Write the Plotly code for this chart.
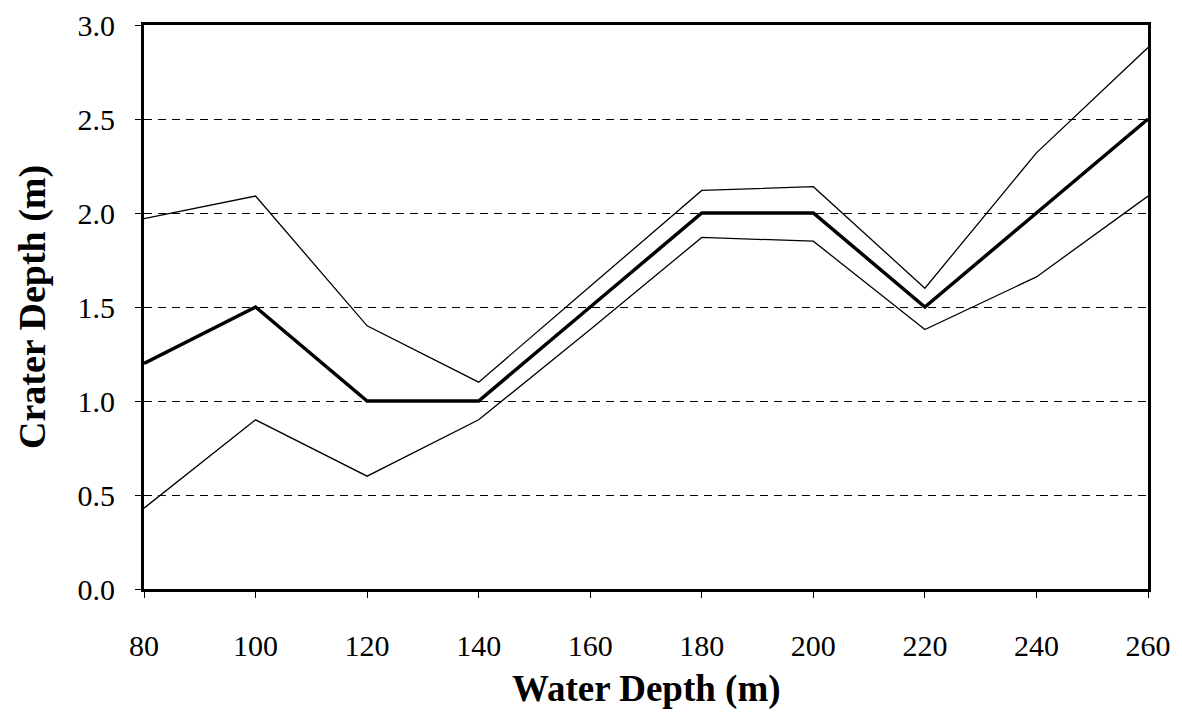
import plotly.graph_objects as go

water_depth = [80, 100, 120, 140, 160, 180, 200, 220, 240, 260]
crater_mean = [1.2, 1.5, 1.0, 1.0, 1.5, 2.0, 2.0, 1.5, 2.0, 2.5]
crater_upper = [1.97, 2.09, 1.40, 1.10, 1.61, 2.12, 2.14, 1.60, 2.32, 2.88]
crater_lower = [0.43, 0.90, 0.60, 0.90, 1.38, 1.87, 1.85, 1.38, 1.66, 2.09]

x_ticks = [80, 100, 120, 140, 160, 180, 200, 220, 240, 260]
y_ticks = [0.0, 0.5, 1.0, 1.5, 2.0, 2.5, 3.0]
y_tick_labels = ["0.0", "0.5", "1.0", "1.5", "2.0", "2.5", "3.0"]
x_title = "Water Depth (m)"
y_title = "Crater Depth (m)"

fig = go.Figure()
fig.add_trace(go.Scatter(x=water_depth, y=crater_upper, mode="lines",
                         line=dict(color="black", width=1.3), showlegend=False))
fig.add_trace(go.Scatter(x=water_depth, y=crater_lower, mode="lines",
                         line=dict(color="black", width=1.3), showlegend=False))
fig.add_trace(go.Scatter(x=water_depth, y=crater_mean, mode="lines",
                         line=dict(color="black", width=3.5), showlegend=False))

font_family = "Liberation Serif, Times New Roman, serif"

fig.update_layout(
    width=1166, height=705,
    margin=dict(l=136, r=26, t=17, b=124, autoexpand=False),
    paper_bgcolor="white", plot_bgcolor="white",
    font=dict(family=font_family, color="black", size=30),
    xaxis=dict(
        range=[80, 260], tickvals=x_ticks, ticktext=[str(v) for v in x_ticks],
        showgrid=False, zeroline=False,
        showline=True, linecolor="black", linewidth=3, mirror=True,
        ticks="outside", ticklen=6, tickwidth=1, tickcolor="black",
        tickfont=dict(size=30, family=font_family),
        ticklabelstandoff=22,
        automargin=False,
    ),
    yaxis=dict(
        range=[0, 3], tickvals=y_ticks, ticktext=y_tick_labels,
        showgrid=True, gridcolor="black", gridwidth=1, griddash="8px,6px",
        zeroline=False,
        showline=True, linecolor="black", linewidth=3, mirror=True,
        ticks="outside", ticklen=6, tickwidth=1, tickcolor="black",
        tickfont=dict(size=30, family=font_family),
        ticklabelstandoff=14,
        automargin=False,
    ),
    annotations=[
        dict(text="<b>" + x_title + "</b>", xref="paper", yref="paper",
             x=0.5, y=-0.178, xanchor="center", yanchor="middle", showarrow=False,
             borderpad=0,
             font=dict(size=37, family=font_family, color="black")),
        dict(text="<b>" + y_title + "</b>", xref="paper", yref="paper",
             x=-0.1115, y=0.5, xanchor="center", yanchor="middle", showarrow=False,
             textangle=-90, borderpad=0,
             font=dict(size=38, family=font_family, color="black")),
    ],
)

fig.write_html("out.html")
